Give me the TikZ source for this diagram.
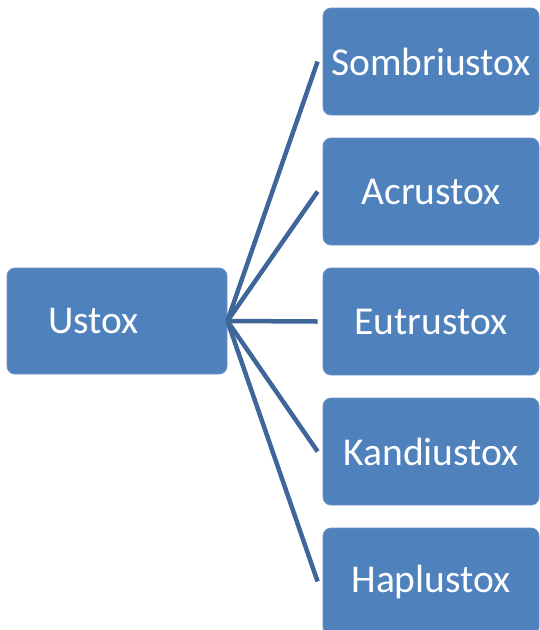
\documentclass[tikz,border=0pt]{standalone}
\usepackage{fontspec}
\setmainfont{Carlito}
\usetikzlibrary{positioning}
\definecolor{cfill}{HTML}{4F81BD}
\definecolor{cline}{HTML}{3F6698}
\tikzset{
  every picture/.style={font=\fontsize{39.5}{46}\selectfont},
  box/.style={fill=cfill, draw=cfill!85!white, line width=0.8pt, rounded corners=8pt, text=white,
    minimum width=216pt, minimum height=107pt, inner sep=0pt},
  link/.style={draw=cline, line width=4.5pt},
}
\begin{document}
\begin{tikzpicture}[x=1pt, y=-1pt]
  \useasboundingbox (0,0) rectangle (539,630);
  % root
  \node[box, minimum width=220pt, minimum height=106pt, text width=138pt, align=left] (ustox) at (117,321) {Ustox};
  % children
  \foreach \name/\txt [count=\i from 0] in {sombr/Sombriustox, acru/Acrustox, eutr/Eutrustox, kand/Kandiustox, hapl/Haplustox}
    \node[box] (\name) at (431,{61.5+\i*130}) {\txt};
  \foreach \name in {sombr, acru, eutr, kand, hapl}
    \draw[link] (ustox.east) -- ([xshift=-5pt]\name.west);
\end{tikzpicture}
\end{document}
